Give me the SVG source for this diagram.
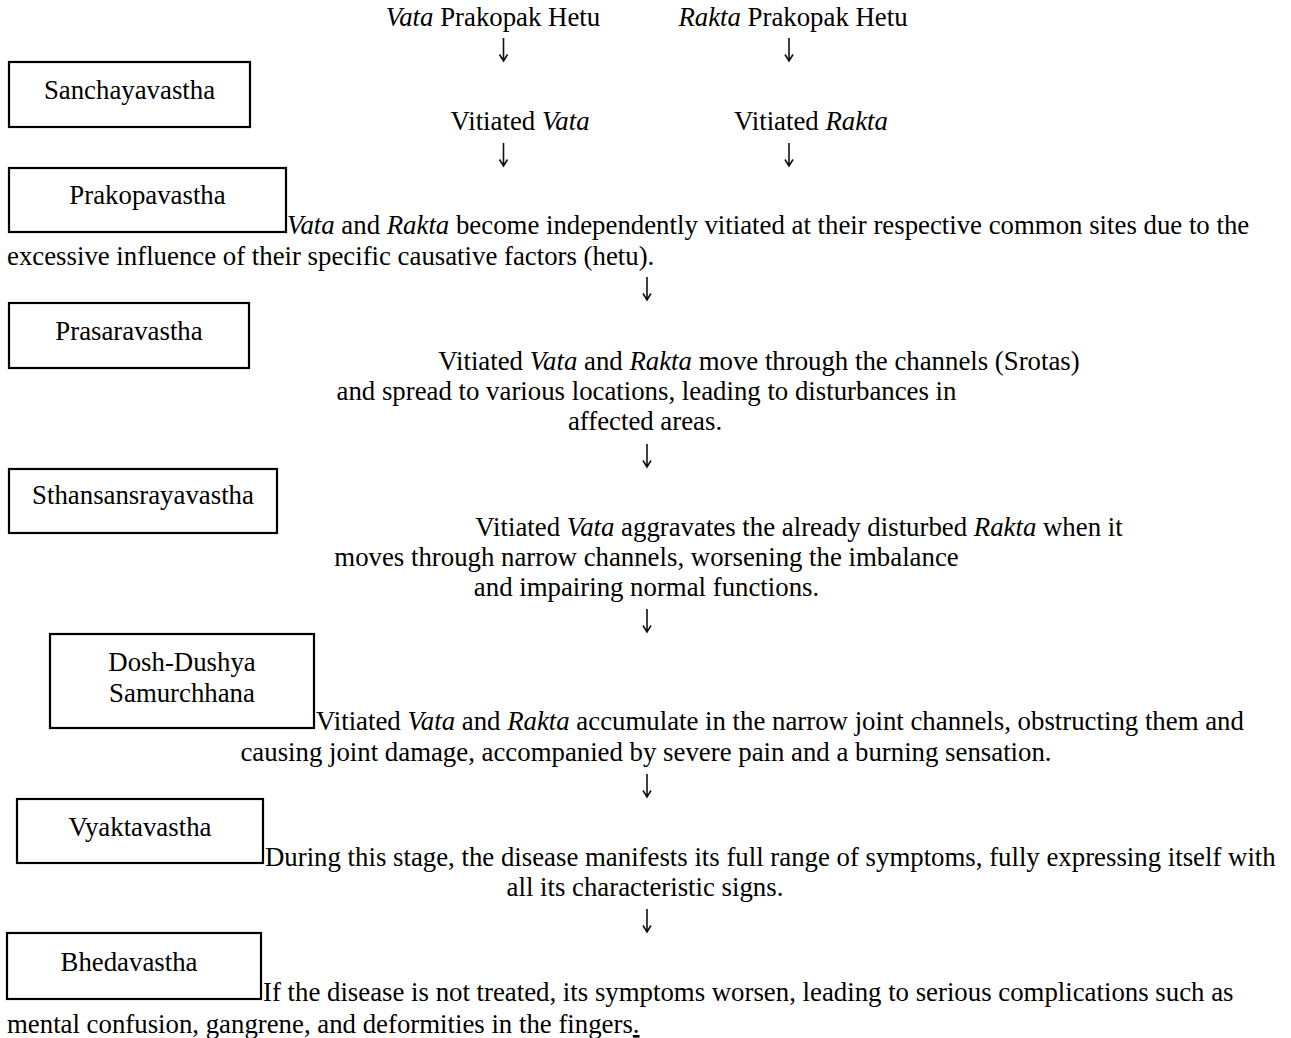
<svg xmlns="http://www.w3.org/2000/svg" width="1291" height="1038" viewBox="0 0 1291 1038">
<style>
text{font-family:"Liberation Serif","Times New Roman",serif;font-size:26.8px;fill:#000}
.m{text-anchor:middle}
.i{font-style:italic}
.box{fill:#fff;stroke:#000;stroke-width:2.2}
.arr{fill:none;stroke:#111;stroke-width:1.6}
</style>
<defs>
<path id="dn" d="M0,0 V23 M-4,16.5 L0,23 L4,16.5"/>
</defs>
<rect width="1291" height="1038" fill="#fff"/>
<g id="hetu-vata"><text class="m" x="493" y="26"><tspan class="i">Vata</tspan> Prakopak Hetu</text></g>
<g id="hetu-rakta"><text class="m" x="793" y="26"><tspan class="i">Rakta</tspan> Prakopak Hetu</text></g>
<g id="vitiated-vata"><text class="m" x="520" y="130">Vitiated <tspan class="i">Vata</tspan></text></g>
<g id="vitiated-rakta"><text class="m" x="811" y="130">Vitiated <tspan class="i">Rakta</tspan></text></g>

<g id="sanchaya"><rect class="box" x="9" y="62" width="241" height="65"/><text class="m" x="129.5" y="99">Sanchayavastha</text></g>

<g id="prakopa"><rect class="box" x="9" y="168" width="277" height="64"/><text class="m" x="147.5" y="204">Prakopavastha</text>
<text x="287" y="234"><tspan class="i">Vata</tspan> and <tspan class="i">Rakta</tspan> become independently vitiated at their respective common sites due to the</text>
<text x="7" y="265">excessive influence of their specific causative factors (hetu).</text></g>

<g id="prasara"><rect class="box" x="9" y="303" width="240" height="65"/><text class="m" x="129" y="340">Prasaravastha</text>
<text class="m" x="759" y="370">Vitiated <tspan class="i">Vata</tspan> and <tspan class="i">Rakta</tspan> move through the channels (Srotas)</text>
<text class="m" x="646.5" y="400">and spread to various locations, leading to disturbances in</text>
<text class="m" x="645" y="430">affected areas.</text></g>

<g id="sthana"><rect class="box" x="9" y="469" width="268" height="64"/><text class="m" x="143" y="504">Sthansansrayavastha</text>
<text class="m" x="799" y="536">Vitiated <tspan class="i">Vata</tspan> aggravates the already disturbed <tspan class="i">Rakta</tspan> when it</text>
<text class="m" x="646.5" y="566">moves through narrow channels, worsening the imbalance</text>
<text class="m" x="646.5" y="596">and impairing normal functions.</text></g>

<g id="dosh-dushya"><rect class="box" x="50" y="634" width="264" height="94"/><text class="m" x="182" y="671">Dosh-Dushya</text><text class="m" x="182" y="702">Samurchhana</text>
<text x="316" y="730">Vitiated <tspan class="i">Vata</tspan> and <tspan class="i">Rakta</tspan> accumulate in the narrow joint channels, obstructing them and</text>
<text class="m" x="646" y="761">causing joint damage, accompanied by severe pain and a burning sensation.</text></g>

<g id="vyakta"><rect class="box" x="17" y="799" width="246" height="64"/><text class="m" x="140" y="836">Vyaktavastha</text>
<text x="265" y="866">During this stage, the disease manifests its full range of symptoms, fully expressing itself with</text>
<text class="m" x="645" y="896">all its characteristic signs.</text></g>

<g id="bheda"><rect class="box" x="7" y="933" width="254" height="66"/><text class="m" x="129" y="971">Bhedavastha</text>
<text x="263" y="1001">If the disease is not treated, its symptoms worsen, leading to serious complications such as</text>
<text x="7" y="1033">mental confusion, gangrene, and deformities in the fingers<tspan text-decoration="underline">.</tspan></text></g>

<g id="connectors" class="arr">
<use href="#dn" x="503.5" y="38"/>
<use href="#dn" x="789" y="38"/>
<use href="#dn" x="503.5" y="143"/>
<use href="#dn" x="789" y="143"/>
<use href="#dn" x="647" y="277"/>
<use href="#dn" x="647" y="444"/>
<use href="#dn" x="647" y="609"/>
<use href="#dn" x="647" y="774"/>
<use href="#dn" x="647" y="909"/>
</g>
</svg>
